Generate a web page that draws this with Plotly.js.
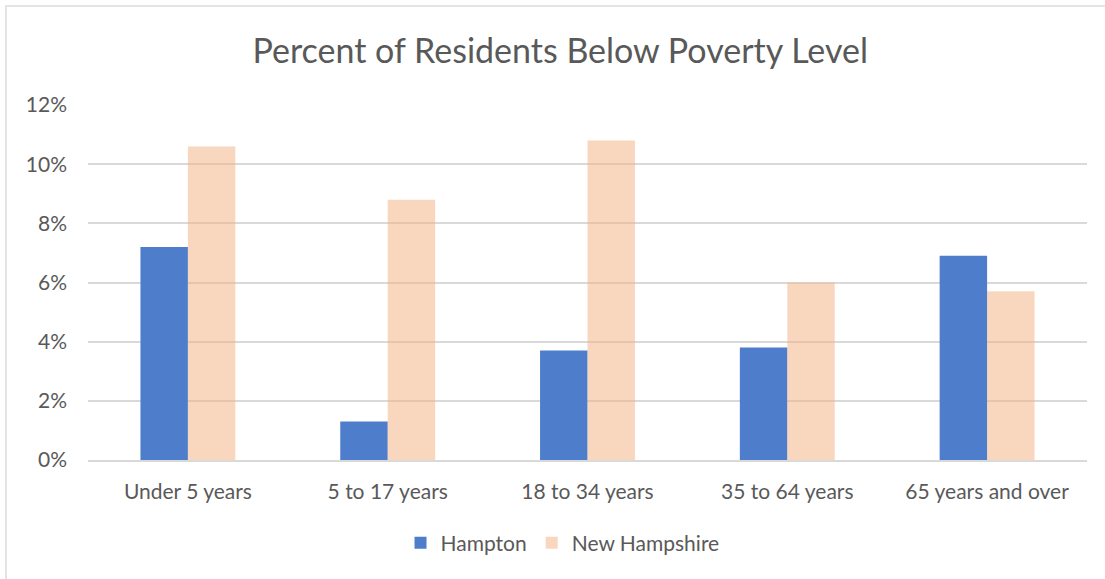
<!DOCTYPE html>
<html>
<head>
<meta charset="utf-8">
<script src="https://cdn.plot.ly/plotly-3.0.1.min.js"></script>
<style>
  html, body { margin: 0; padding: 0; background: #fff; }
  #frame { position: absolute; left: 5px; top: 5px; width: 1110px; height: 590px; border-left: 2px solid #e4e4e4; border-top: 2px solid #e4e4e4; box-sizing: border-box; pointer-events: none; }
  #chart { position: absolute; left: 0; top: 0; width: 1105px; height: 579px; }
</style>
</head>
<body>
<div id="chart"></div>
<div id="frame"></div>
<script>
const categories = ["Under 5 years", "5 to 17 years", "18 to 34 years", "35 to 64 years", "65 years and over"];
const hampton = [0.072, 0.013, 0.037, 0.038, 0.069];
const newHampshire = [0.106, 0.088, 0.108, 0.060, 0.057];
const tickVals = [0, 0.02, 0.04, 0.06, 0.08, 0.10, 0.12];
const tickText = ["0%", "2%", "4%", "6%", "8%", "10%", "12%"];

const font = "Lato, 'Open Sans', sans-serif";
const traces = [
  { type: "bar", name: "Hampton", x: categories, y: hampton,
    marker: { color: "#4e7ecb" }, hoverinfo: "none" },
  { type: "bar", name: "New Hampshire", x: categories, y: newHampshire,
    marker: { color: "rgba(244,177,131,0.52)" }, hoverinfo: "none" }
];
const layout = {
  width: 1105, height: 579,
  paper_bgcolor: "rgba(0,0,0,0)", plot_bgcolor: "rgba(0,0,0,0)",
  margin: { l: 88, r: 18, t: 105, b: 119 },
  barmode: "group", bargap: 0.525, bargroupgap: 0,
  font: { family: font, color: "#595959", size: 21 },
  title: { text: "Percent of Residents Below Poverty Level", x: 0.507, xanchor: "center", y: 0.912, yanchor: "middle",
           font: { family: font, size: 34, color: "#595959" } },
  xaxis: { type: "category", showgrid: false, showline: true, linecolor: "#d9d9d9", linewidth: 2,
           ticks: "", tickfont: { size: 21, color: "#595959" }, ticklabelstandoff: 12 },
  yaxis: { range: [0, 0.12], tickvals: tickVals, ticktext: tickText, showgrid: true, gridcolor: "#d9d9d9",
           gridwidth: 2, zeroline: false, showline: false, ticks: "", ticklabelstandoff: 20,
           tickfont: { size: 21, color: "#595959" } },
  legend: { orientation: "h", x: 0.475, xanchor: "center", y: -0.234, yanchor: "middle",
            font: { size: 21, color: "#595959" }, itemwidth: 30, traceorder: "normal" },
  showlegend: true
};
Plotly.newPlot("chart", traces, layout, { staticPlot: true, displayModeBar: false });
</script>
</body>
</html>
